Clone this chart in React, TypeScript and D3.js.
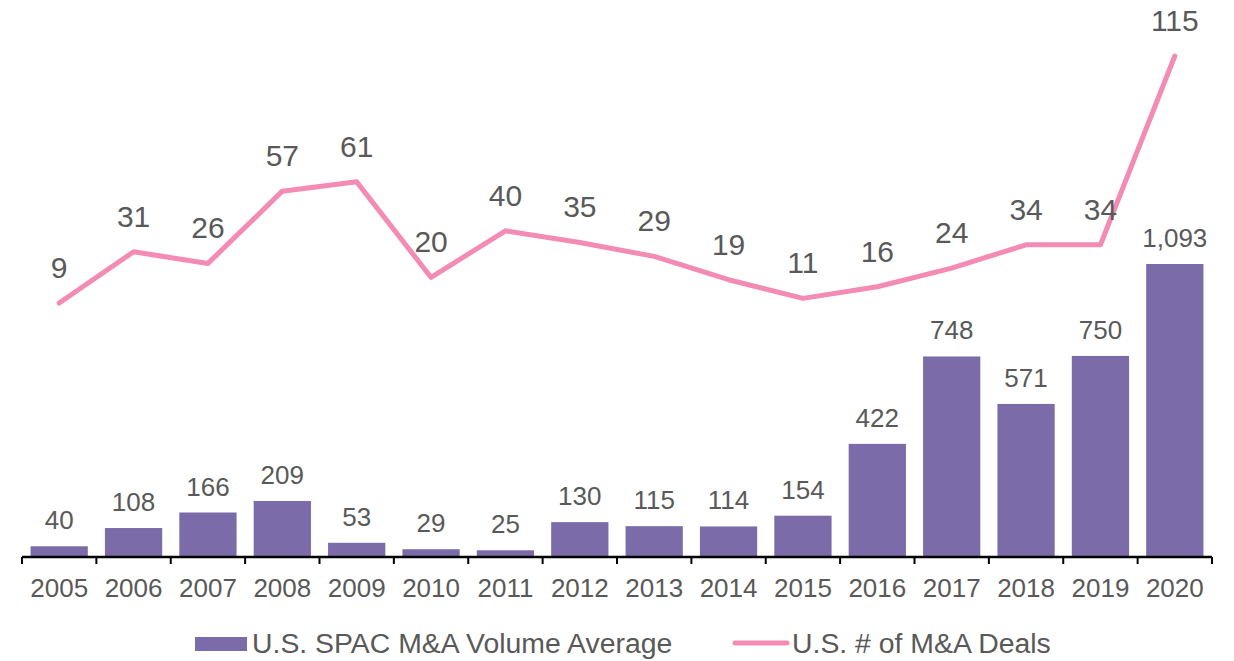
import React, { useRef, useEffect } from "react";
import * as d3 from "d3";

// Chart data
const years = ["2005", "2006", "2007", "2008", "2009", "2010", "2011", "2012", "2013", "2014", "2015", "2016", "2017", "2018", "2019", "2020"];
const volumeAvg = [40, 108, 166, 209, 53, 29, 25, 130, 115, 114, 154, 422, 748, 571, 750, 1093];
const dealCount = [9, 31, 26, 57, 61, 20, 40, 35, 29, 19, 11, 16, 24, 34, 34, 115];
const barLabel = "U.S. SPAC M&A Volume Average";
const lineLabel = "U.S. # of M&A Deals";

const BAR_COLOR = "#7b6ba8";
const LINE_COLOR = "#f38bb5";
const TEXT_COLOR = "#595959";
const FONT = "'Liberation Sans', Arial, sans-serif";

const App = () => {
  const svgRef = useRef<SVGSVGElement>(null);

  useEffect(() => {
    const width = 1234;
    const height = 661;
    const svg = d3.select(svgRef.current).attr("width", width).attr("height", height);
    svg.selectAll("*").remove();

    const x = d3.scaleBand().domain(years).range([22, 1212]).paddingInner(0.23).paddingOuter(0.115);
    const yBar = d3.scaleLinear().domain([0, 1093]).range([557, 264]);
    const yLine = d3.scaleLinear().domain([0, 115]).range([324, 56]);
    const step = x.step();
    const cx = (d: string) => (x(d) as number) + x.bandwidth() / 2;

    // bars
    svg
      .append("g")
      .selectAll("rect")
      .data(years)
      .join("rect")
      .attr("x", (d) => x(d) as number)
      .attr("width", x.bandwidth())
      .attr("y", (d, i) => yBar(volumeAvg[i]))
      .attr("height", (d, i) => yBar(0) - yBar(volumeAvg[i]))
      .attr("fill", BAR_COLOR);

    // bar labels
    svg
      .append("g")
      .selectAll("text")
      .data(years)
      .join("text")
      .attr("x", cx)
      .attr("y", (d, i) => yBar(volumeAvg[i]) - 17)
      .attr("text-anchor", "middle")
      .attr("font-family", FONT)
      .attr("font-size", 26)
      .attr("fill", TEXT_COLOR)
      .text((d, i) => d3.format(",")(volumeAvg[i]));

    // x axis line and ticks
    const axis = svg.append("g");
    axis
      .append("line")
      .attr("x1", 22)
      .attr("x2", 1212)
      .attr("y1", 557)
      .attr("y2", 557)
      .attr("stroke", "#000")
      .attr("stroke-width", 2.5);
    axis
      .selectAll("line.tick")
      .data(d3.range(years.length + 1))
      .join("line")
      .attr("class", "tick")
      .attr("x1", (i) => 22 + i * step)
      .attr("x2", (i) => 22 + i * step)
      .attr("y1", 557)
      .attr("y2", 564)
      .attr("stroke", "#000")
      .attr("stroke-width", 2);
    axis
      .selectAll("text")
      .data(years)
      .join("text")
      .attr("x", cx)
      .attr("y", 597)
      .attr("text-anchor", "middle")
      .attr("font-family", FONT)
      .attr("font-size", 26)
      .attr("fill", TEXT_COLOR)
      .text((d) => d);

    // line
    const line = d3
      .line<number>()
      .x((d, i) => cx(years[i]))
      .y((d) => yLine(d));
    svg
      .append("path")
      .datum(dealCount)
      .attr("d", line)
      .attr("fill", "none")
      .attr("stroke", LINE_COLOR)
      .attr("stroke-width", 5)
      .attr("stroke-linejoin", "round")
      .attr("stroke-linecap", "round");

    svg
      .append("g")
      .selectAll("text")
      .data(dealCount)
      .join("text")
      .attr("x", (d, i) => cx(years[i]))
      .attr("y", (d) => yLine(d) - 25)
      .attr("text-anchor", "middle")
      .attr("font-family", FONT)
      .attr("font-size", 30)
      .attr("fill", TEXT_COLOR)
      .text((d) => d);

    // legend
    const legend = svg.append("g");
    legend
      .append("rect")
      .attr("x", 195)
      .attr("y", 637)
      .attr("width", 52)
      .attr("height", 14)
      .attr("fill", BAR_COLOR);
    legend
      .append("text")
      .attr("x", 252)
      .attr("y", 653)
      .attr("font-family", FONT)
      .attr("font-size", 28.4)
      .attr("fill", TEXT_COLOR)
      .text(barLabel);
    legend
      .append("line")
      .attr("x1", 735)
      .attr("x2", 787)
      .attr("y1", 643)
      .attr("y2", 643)
      .attr("stroke", LINE_COLOR)
      .attr("stroke-width", 5)
      .attr("stroke-linecap", "round");
    legend
      .append("text")
      .attr("x", 792)
      .attr("y", 653)
      .attr("font-family", FONT)
      .attr("font-size", 28.4)
      .attr("fill", TEXT_COLOR)
      .text(lineLabel);
  }, []);

  return (
    <svg
      ref={svgRef}
      style={{ position: "absolute", left: 0, top: 0, display: "block", background: "#fff" }}
    ></svg>
  );
};

export default App;
